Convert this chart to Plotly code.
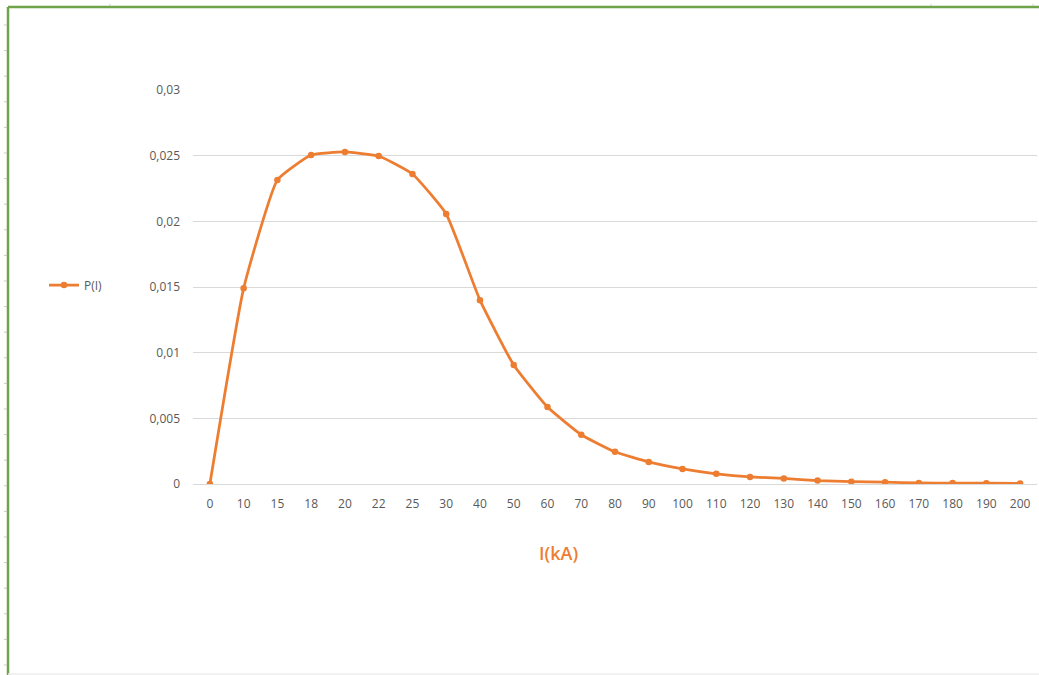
import plotly.graph_objects as go

categories = ["0", "10", "15", "18", "20", "22", "25", "30", "40", "50", "60", "70",
              "80", "90", "100", "110", "120", "130", "140", "150", "160", "170",
              "180", "190", "200"]
p_values = [0.0, 0.0149, 0.02315, 0.02505, 0.02528, 0.02497, 0.0236, 0.02056,
            0.0140, 0.00906, 0.00586, 0.00375, 0.00245, 0.00168, 0.00115,
            0.00078, 0.00054, 0.00042, 0.00026, 0.00018, 0.00014, 0.00008,
            0.00007, 0.00006, 0.00004]
y_tickvals = [0, 0.005, 0.01, 0.015, 0.02, 0.025, 0.03]
y_ticktext = ["0", "0,005", "0,01", "0,015", "0,02", "0,025", "0,03"]

orange = "#ED7D31"
grey_text = "#595959"

fig = go.Figure()
fig.add_trace(go.Scatter(
    x=categories, y=p_values, name="P(I)",
    mode="lines+markers",
    line=dict(color=orange, width=2.75, shape="spline", smoothing=0.4),
    marker=dict(color=orange, size=6.5),
))

# plot area: x 193..1037 px, y 90..484 px
L, R, T, B = 193, 1037, 90, 484
W, H = 1039, 675


def px(xp):
    return (xp - L) / (R - L)


def py(yp):
    return (B - yp) / (B - T)


green = "#6FA44A"
shapes = [
    dict(type="line", xref="paper", yref="paper", x0=px(8), x1=px(1039), y0=py(7), y1=py(7),
         line=dict(color=green, width=2.5)),
    dict(type="line", xref="paper", yref="paper", x0=px(8), x1=px(8), y0=py(7), y1=py(675),
         line=dict(color=green, width=2.5)),
    dict(type="line", xref="paper", yref="paper", x0=px(8), x1=px(1039), y0=py(674), y1=py(674),
         line=dict(color="#EDEDED", width=1.5)),
]
for k in range(26):
    yy = 25 + 25.6 * k
    if yy > 672:
        break
    shapes.append(dict(type="line", xref="paper", yref="paper", x0=px(4), x1=px(7),
                       y0=py(yy), y1=py(yy), line=dict(color="#C8C8C8", width=1)))
for xx in [110, 931, 1033]:
    shapes.append(dict(type="line", xref="paper", yref="paper", x0=px(xx), x1=px(xx),
                       y0=py(4), y1=py(6), line=dict(color="#C8C8C8", width=1)))

fig.update_layout(
    width=W, height=H,
    margin=dict(l=L, r=W - R, t=T, b=H - B),
    plot_bgcolor="white", paper_bgcolor="white",
    font=dict(family="Open Sans, Liberation Sans, sans-serif", size=12, color=grey_text),
    showlegend=True,
    legend=dict(x=px(44), y=py(285), xanchor="left", yanchor="middle",
                font=dict(size=12, color=grey_text), bgcolor="rgba(0,0,0,0)",
                itemwidth=30),
    xaxis=dict(type="category", range=[-0.5, len(categories) - 0.5],
               showgrid=False, showline=False, zeroline=False, ticks="",
               tickfont=dict(size=12, color=grey_text), ticklabelstandoff=11,
               fixedrange=True),
    yaxis=dict(range=[0, 0.03], tickvals=y_tickvals, ticktext=y_ticktext,
               showgrid=True, gridcolor="#D9D9D9", gridwidth=1,
               zeroline=True, zerolinecolor="#D9D9D9", zerolinewidth=1,
               showline=False, ticks="", ticklabelstandoff=12,
               tickfont=dict(size=12, color=grey_text)),
    shapes=shapes,
    annotations=[dict(text="I(kA)", xref="paper", yref="paper", x=px(558), y=py(553),
                      xanchor="center", yanchor="middle", showarrow=False,
                      font=dict(size=18, color=orange, weight=600))],
)

fig.write_html("out.html")
